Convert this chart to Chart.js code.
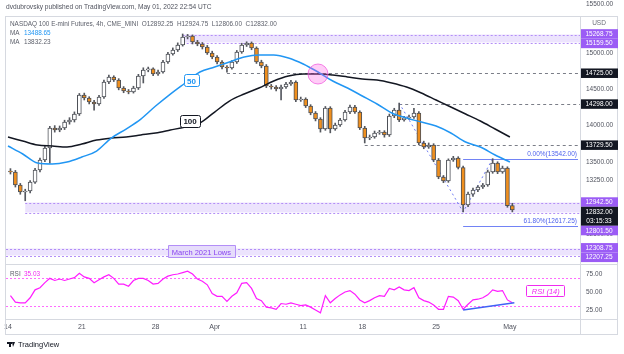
<!DOCTYPE html>
<html>
<head>
<meta charset="utf-8">
<script src="https://cdn.jsdelivr.net/npm/chart.js@4.4.1/dist/chart.umd.min.js"></script>
<style>
  html, body { margin: 0; padding: 0; background: #fff; }
  canvas { display: block; }
</style>
</head>
<body>
<canvas id="chart" width="624" height="354"></canvas>
<script>
// NQ 4h candles, 3 per trading day, 14 Mar -> 1 May 2022
const opens = [13370,13358,13178,13081,13095,13219,13386,13524,13690,13967,
  13939,13967,14050,14078,14161,14424,14382,14327,14299,14396,
  14603,14673,14631,14520,14479,14465,14520,14686,14770,14785,
  14714,14742,14880,14991,15046,15116,15226,15240,15157,15129,
  15088,15005,14949,14880,14811,14797,14880,15019,15116,15143,
  15074,14880,14825,14548,14534,14507,14534,14576,14603,14354,
  14368,14271,14174,14091,13953,14244,13953,14008,14078,14188,
  14257,14188,13967,13828,13842,13898,13911,13870,14133,14216,
  14080,14105,14119,14175,13759,13704,13732,13524,13289,13233,
  13524,13552,13420,12901,13053,13109,13150,13178,13359,13482,
  13359,13413,12892];
const highs = [13405,13380,13200,13120,13240,13410,13550,13720,13990,14000,
  13995,14075,14110,14190,14445,14450,14400,14350,14420,14630,
  14700,14690,14650,14540,14500,14545,14710,14800,14810,14800,
  14770,14905,15015,15075,15145,15268,15262,15255,15180,15150,
  15110,15030,14970,14900,14830,14900,15040,15140,15160,15158,
  15090,14905,14845,14570,14555,14560,14600,14625,14620,14395,
  14385,14290,14195,14110,14265,14262,14035,14100,14210,14285,
  14280,14205,13990,13870,13925,13935,13930,14160,14240,14312,
  14130,14145,14240,14195,13785,13760,13750,13545,13310,13540,
  13575,13570,13440,13080,13135,13170,13200,13385,13542,13500,
  13440,13430,12925];
const lows = [13330,13150,13050,12960,13070,13200,13360,13500,13480,13910,
  13915,13945,14020,14050,14140,14355,14300,14215,14280,14375,
  14580,14610,14495,14455,14440,14450,14500,14590,14745,14690,
  14695,14725,14860,14975,15025,15100,15200,15130,15105,15060,
  14985,14925,14855,14785,14740,14780,14860,15000,15095,15050,
  14860,14800,14525,14505,14480,14355,14515,14555,14330,14335,
  14250,14150,14065,13910,13935,13900,13935,13990,14060,14165,
  14170,13945,13760,13805,13825,13880,13840,13850,14110,14055,
  14060,14085,14100,13735,13680,13685,13500,13265,13210,13215,
  13505,13400,12805,12880,13020,13085,13130,13160,13340,13335,
  13340,12870,12806];
const closes = [13358,13178,13081,13095,13219,13386,13524,13690,13967,13939,
  13967,14050,14078,14161,14424,14382,14327,14299,14396,14603,
  14673,14631,14520,14479,14465,14520,14686,14770,14785,14714,
  14742,14880,14991,15046,15116,15226,15240,15157,15129,15088,
  15005,14949,14880,14811,14797,14880,15019,15116,15143,15074,
  14880,14825,14548,14534,14507,14534,14576,14603,14354,14368,
  14271,14174,14091,13953,14244,13953,14008,14078,14188,14257,
  14188,13967,13828,13842,13898,13911,13870,14133,14216,14080,
  14105,14119,14175,13759,13704,13732,13524,13289,13233,13524,
  13552,13420,12901,13053,13109,13150,13178,13359,13482,13359,
  13413,12892,12832];

// moving averages, one reading per trading day
const ma50 = [13718,13607,13482,13469,13496,13565,13648,13828,13953,14091,
  14271,14437,14590,14742,14811,14880,14949,14977,14977,14936,
  14853,14742,14617,14520,14410,14299,14174,14105,14050,13994,
  13898,13773,13704,13593,13496];
const ma100 = [13842,13787,13732,13718,13704,13745,13801,13828,13842,13870,
  13898,13939,13981,14036,14188,14340,14437,14520,14617,14686,
  14714,14714,14700,14673,14645,14631,14590,14534,14451,14354,
  14257,14161,14064,13953,13842];

// RSI(14), one per candle
const rsiValues = [45,36,35,35,42,53,56,63,69,66,
  68,66,68,70,76,71,69,63,67,71,
  74,69,61,61,58,66,69,69,66,61,
  62,68,72,74,75,77,79,75,68,65,
  60,48,44,44,37,44,49,62,63,55,
  41,38,29,28,26,34,33,35,33,31,
  32,29,25,21,45,35,41,46,50,52,
  47,39,35,38,42,45,44,55,53,57,
  53,52,56,42,38,36,32,26,26,44,
  43,38,26,33,39,40,42,46,53,51,
  52,39,35];

const dayTicks = [0, 5, 10, 14, 20, 24, 29, 34];
const dayLabels = ["14", "21", "28", "Apr", "11", "18", "25", "May"];

// drawn levels
const zoneHighs = [15268.75, 12942.5, 12308.75];
const zoneLows = [15159.5, 12801.5, 12207.25];
const zoneFrom = [35, 3, -1];
const levelLines = [14725, 14298, 13729.5];
const levelFrom = [44, 79, 72];
const fibLevels = [13542, 12617.25];
const fibRatios = ["0.00", "61.80"];
const fibCandles = [79, 92, 98];
const fibPrices = [14312, 12805, 13542];
const maLast = [13488.65, 13832.23];
const lastBar = [12892.25, 12924.75, 12806.00, 12832.00];
const countdown = "03:15:33";
const rsiLast = 35.03;

const FONT = '"Liberation Sans", Arial, sans-serif';
const PURPLE = '#9b5cf5';
const DARK = '#131722';
const GREY = '#6a6d78';

const badgeValues = zoneHighs.concat(zoneLows, levelLines, [lastBar[3]]);
const PRICE_MAX = 15503;

function candleX(i) { return i / 3 + 1 / 6; }

const hline = (ctx, x0, x1, yy) => {
  const v = Math.round(yy) + 0.5;
  ctx.beginPath(); ctx.moveTo(x0, v); ctx.lineTo(x1, v); ctx.stroke();
};

function roundBox(ctx, cx, cy, w, h, r) {
  ctx.beginPath();
  ctx.roundRect(Math.round(cx - w / 2) + 0.5, Math.round(cy - h / 2) + 0.5, w, h, r);
}

const overlay = {
  id: 'overlay',
  beforeDatasetsDraw(chart) {
    const { ctx, chartArea: ca, scales } = chart;
    const x = scales.x, y = scales.y, r = scales.rsi;
    ctx.save();
    ctx.beginPath();
    ctx.rect(ca.left, y.top, ca.right - ca.left, y.bottom - y.top);
    ctx.clip();
    ctx.lineWidth = 1;
    // zones
    zoneHighs.forEach((hi, k) => {
      const x0 = zoneFrom[k] < 0 ? ca.left : x.getPixelForValue(candleX(zoneFrom[k]));
      const yt = Math.round(y.getPixelForValue(hi)) + 0.5;
      const yb = Math.round(y.getPixelForValue(zoneLows[k])) + 0.5;
      ctx.fillStyle = 'rgba(160,115,245,0.2)';
      ctx.fillRect(x0, yt, ca.right - x0, yb - yt);
      ctx.strokeStyle = '#b38ef7';
      ctx.setLineDash([2, 2]);
      hline(ctx, x0, ca.right, yt);
      hline(ctx, x0, ca.right, yb);
    });
    // horizontal levels
    ctx.strokeStyle = '#7b7e88';
    ctx.setLineDash([3, 3]);
    levelLines.forEach((v, k) => {
      hline(ctx, x.getPixelForValue(candleX(levelFrom[k])), ca.right, y.getPixelForValue(v));
    });
    // fib extension
    ctx.setLineDash([2, 3]);
    ctx.strokeStyle = '#6f7cf2';
    ctx.beginPath();
    fibCandles.forEach((c, k) => {
      const px = x.getPixelForValue(candleX(c)), py = y.getPixelForValue(fibPrices[k]);
      if (k === 0) ctx.moveTo(px, py); else ctx.lineTo(px, py);
    });
    ctx.stroke();
    ctx.setLineDash([]);
    ctx.strokeStyle = '#7283f5';
    const fx0 = x.getPixelForValue(candleX(fibCandles[1]));
    ctx.fillStyle = '#4f63ee';
    ctx.font = '6.5px ' + FONT;
    ctx.textAlign = 'right';
    ctx.textBaseline = 'bottom';
    fibLevels.forEach((v, k) => {
      const py = y.getPixelForValue(v);
      hline(ctx, fx0, ca.right - 2, py);
      ctx.fillText(fibRatios[k] + '%(' + v.toFixed(2) + ')', ca.right - 3, py - 1);
    });
    ctx.restore();

    // RSI bands
    ctx.save();
    ctx.strokeStyle = '#ff6bff';
    ctx.setLineDash([2, 2]);
    ctx.lineWidth = 1;
    [70, 30].forEach(v => hline(ctx, ca.left, ca.right, r.getPixelForValue(v)));
    ctx.restore();
  },
  afterDatasetsDraw(chart) {
    const { ctx, chartArea: ca, scales } = chart;
    const x = scales.x, y = scales.y, r = scales.rsi;
    ctx.save();
    // MA tags
    ctx.lineWidth = 1;
    ctx.font = 'bold 8px ' + FONT;
    ctx.textAlign = 'center';
    ctx.textBaseline = 'middle';
    let cx = x.getPixelForValue(12.4), cy = y.getPixelForValue(14625);
    roundBox(ctx, cx, cy, 15, 12, 2);
    ctx.fillStyle = '#fff'; ctx.fill();
    ctx.strokeStyle = '#2196f3'; ctx.stroke();
    ctx.fillStyle = '#2196f3'; ctx.fillText('50', cx + 0.5, cy + 1);
    cx = x.getPixelForValue(12.3); cy = y.getPixelForValue(14060);
    roundBox(ctx, cx, cy, 20, 12, 2);
    ctx.fillStyle = '#fff'; ctx.fill();
    ctx.strokeStyle = DARK; ctx.stroke();
    ctx.fillStyle = DARK; ctx.fillText('100', cx + 0.5, cy + 1);

    // cross circle
    ctx.beginPath();
    ctx.arc(x.getPixelForValue(21.0), y.getPixelForValue(14714), 10, 0, Math.PI * 2);
    ctx.fillStyle = 'rgba(255, 90, 230, 0.3)';
    ctx.fill();
    ctx.strokeStyle = 'rgba(240, 80, 220, 0.7)';
    ctx.stroke();

    // March 2021 lows tag
    cx = x.getPixelForValue(13.1); cy = y.getPixelForValue(12258);
    ctx.font = '7.5px ' + FONT;
    const tw = ctx.measureText('March 2021 Lows').width + 8;
    ctx.beginPath();
    ctx.rect(Math.round(cx - tw / 2) + 0.5, Math.round(cy - 6) + 0.5, Math.round(tw), 12);
    ctx.fillStyle = '#e6dcfb'; ctx.fill();
    ctx.strokeStyle = '#b38ef7'; ctx.stroke();
    ctx.fillStyle = '#8a45f0';
    ctx.fillText('March 2021 Lows', cx, cy + 1);

    // RSI divergence
    ctx.strokeStyle = '#3f63f5';
    ctx.lineWidth = 1.5;
    ctx.beginPath();
    ctx.moveTo(x.getPixelForValue(candleX(92)), r.getPixelForValue(rsiValues[92] - 1));
    ctx.lineTo(x.getPixelForValue(candleX(102)) + 2, r.getPixelForValue(rsiValues[102]));
    ctx.stroke();

    // RSI tag
    ctx.lineWidth = 1;
    cx = x.getPixelForValue(36.4); cy = r.getPixelForValue(52);
    ctx.font = 'italic 7.5px ' + FONT;
    roundBox(ctx, cx, cy, 38, 11, 1);
    ctx.fillStyle = '#fff'; ctx.fill();
    ctx.strokeStyle = '#f02cf0'; ctx.stroke();
    ctx.fillStyle = '#f02cf0';
    ctx.fillText('RSI (14)', cx + 0.5, cy + 1);
    ctx.restore();
  },
  afterDraw(chart) {
    const { ctx, chartArea: ca, scales } = chart;
    const x = scales.x, y = scales.y, r = scales.rsi;
    ctx.save();
    // frame and separators
    ctx.strokeStyle = '#d6d9e0';
    ctx.lineWidth = 1;
    ctx.strokeRect(5.5, 16.5, 612, 318);
    hline(ctx, 6, 618, y.bottom);
    hline(ctx, 6, 618, ca.bottom);
    ctx.beginPath();
    ctx.moveTo(Math.round(ca.right) + 0.5, 17);
    ctx.lineTo(Math.round(ca.right) + 0.5, 334);
    ctx.stroke();

    // header
    ctx.textBaseline = 'middle';
    ctx.textAlign = 'left';
    ctx.font = '6.6px ' + FONT;
    ctx.fillStyle = '#50535e';
    ctx.fillText('dvdubrovsky published on TradingView.com, May 01, 2022 22:54 UTC', 6, 7);
    ctx.font = '6.4px ' + FONT;
    ctx.fillStyle = '#5d606b';
    const ohlc = ['O', 'H', 'L', 'C'].map((k, j) => k + lastBar[j].toFixed(2)).join('  ');
    ctx.fillText('NASDAQ 100 E-mini Futures, 4h, CME_MINI  ' + ohlc, 10, 24);
    ctx.fillText('MA', 10, 33);
    ctx.fillText('MA', 10, 42);
    ctx.fillStyle = '#2196f3';
    ctx.fillText(maLast[0].toFixed(2), 24, 33);
    ctx.fillStyle = '#5d606b';
    ctx.fillText(maLast[1].toFixed(2), 24, 42);
    ctx.fillText('RSI', 10, r.getPixelForValue(74));
    ctx.fillStyle = '#f02cf0';
    ctx.fillText(rsiLast.toFixed(2), 24, r.getPixelForValue(74));

    // top tick label sits above the currency tag
    ctx.font = '6.5px ' + FONT;
    ctx.fillStyle = '#50535e';
    y.ticks.filter(t => t.value > PRICE_MAX - 150).forEach(t => {
      ctx.fillText(t.value.toFixed(2), ca.right + 6, 4);
    });

    // price badges
    ctx.textAlign = 'center';
    ctx.fillStyle = GREY;
    ctx.fillText('USD', 599, 23);
    const badges = [];
    zoneHighs.forEach((v, k) => { badges.push({ v, c: PURPLE }); badges.push({ v: zoneLows[k], c: PURPLE }); });
    levelLines.forEach(v => badges.push({ v, c: DARK }));
    badges.push({ v: lastBar[3], c: DARK, extra: countdown });
    badges.sort((a, b) => b.v - a.v);
    let prev = -1e9;
    badges.forEach(b => {
      const h = b.extra ? 19 : 9.5;
      const cy = y.getPixelForValue(b.v);
      let top = Math.max(cy - 4.75, prev);
      prev = top + h;
      ctx.fillStyle = b.c;
      ctx.fillRect(ca.right + 1, top, 37, h);
      ctx.fillStyle = '#fff';
      ctx.fillText(b.v.toFixed(2), 599, top + 5);
      if (b.extra) ctx.fillText(b.extra, 599, top + 14);
    });

    // logo
    ctx.fillStyle = DARK;
    ctx.fillRect(7, 342, 5, 2);
    ctx.fillRect(9, 342, 2, 5);
    ctx.beginPath();
    ctx.moveTo(12, 342); ctx.lineTo(15, 342); ctx.lineTo(13, 347); ctx.closePath();
    ctx.fill();
    ctx.textAlign = 'left';
    ctx.font = '7.5px ' + FONT;
    ctx.fillText('TradingView', 18, 345);
    ctx.restore();
  }
};

const candleData = opens.map((o, i) => ({ x: candleX(i), y: [o, closes[i]] }));
const wickData = opens.map((o, i) => ({ x: candleX(i), y: [lows[i], highs[i]] }));
const bodyColors = opens.map((o, i) => closes[i] >= o ? '#ffffff' : '#ef8f1e');

new Chart(document.getElementById('chart'), {
  type: 'bar',
  data: {
    datasets: [
      {
        label: 'MA 50', type: 'line', order: 1,
        data: ma50.map((v, d) => ({ x: d, y: v })),
        borderColor: '#2196f3', borderWidth: 1.5, pointRadius: 0,
        cubicInterpolationMode: 'monotone', yAxisID: 'y'
      },
      {
        label: 'MA 100', type: 'line', order: 1,
        data: ma100.map((v, d) => ({ x: d, y: v })),
        borderColor: '#131722', borderWidth: 1.5, pointRadius: 0,
        cubicInterpolationMode: 'monotone', yAxisID: 'y'
      },
      {
        label: 'RSI', type: 'line', order: 1,
        data: rsiValues.map((v, i) => ({ x: candleX(i), y: v })),
        borderColor: '#ff1cff', borderWidth: 1.2, pointRadius: 0,
        yAxisID: 'rsi'
      },
      {
        label: 'wick', order: 3, grouped: false,
        data: wickData, backgroundColor: '#55585f',
        barThickness: 1, yAxisID: 'y'
      },
      {
        label: 'body', order: 2, grouped: false,
        data: candleData, backgroundColor: bodyColors,
        borderColor: '#4d5057', borderWidth: 1, borderSkipped: false,
        barThickness: 4, yAxisID: 'y'
      }
    ]
  },
  options: {
    responsive: false,
    animation: false,
    events: [],
    layout: { padding: { left: 6, right: 6, top: 17, bottom: 20 } },
    plugins: { legend: { display: false }, tooltip: { enabled: false } },
    scales: {
      x: {
        type: 'linear', min: -0.135, max: 38.75, offset: false,
        grid: { display: false, drawTicks: false }, border: { display: false },
        afterBuildTicks: s => { s.ticks = dayTicks.map(v => ({ value: v })); },
        afterFit: s => { s.height = 15; },
        ticks: {
          autoSkip: false, maxRotation: 0, padding: 4,
          color: '#50535e', font: { family: FONT, size: 7 },
          callback: v => dayLabels[dayTicks.indexOf(v)]
        }
      },
      y: {
        position: 'right', stack: 'panes', stackWeight: 247,
        min: 12085, max: PRICE_MAX,
        grid: { display: false, drawTicks: false }, border: { display: false },
        afterFit: s => { s.width = 38; },
        ticks: {
          stepSize: 250, includeBounds: false, padding: 6,
          autoSkip: false, maxTicksLimit: 40,
          color: '#50535e', font: { family: FONT, size: 6.5 },
          // labels hidden where a price badge sits on top, top one drawn separately
          callback: v => (v > PRICE_MAX - 150 || badgeValues.some(b => Math.abs(b - v) < 110)) ? '' : v.toFixed(2)
        }
      },
      rsi: {
        position: 'right', stack: 'panes', stackWeight: 55,
        min: 12.5, max: 88.9,
        grid: { display: false, drawTicks: false }, border: { display: false },
        afterFit: s => { s.width = 38; },
        ticks: {
          stepSize: 25, includeBounds: false, padding: 6,
          color: '#50535e', font: { family: FONT, size: 6.5 },
          callback: v => v.toFixed(2)
        }
      }
    }
  },
  plugins: [overlay]
});
</script>
</body>
</html>
